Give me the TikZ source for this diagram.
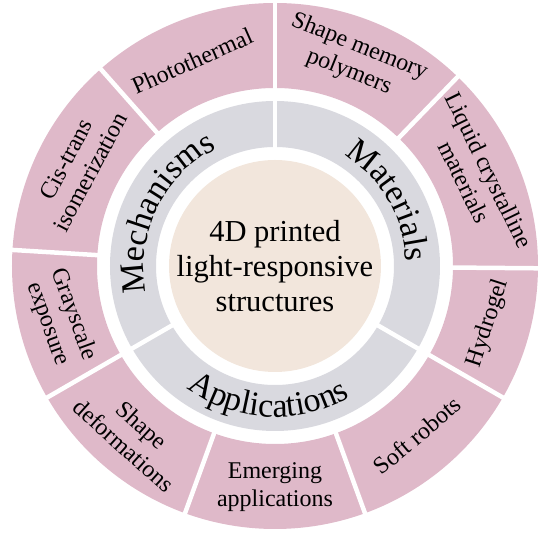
\documentclass[tikz,border=0pt]{standalone}
\usepackage{fontspec}
\setmainfont{Liberation Serif}
\usetikzlibrary{decorations.text}
\definecolor{ringpink}{RGB}{223,185,201}
\definecolor{ringgrey}{RGB}{217,217,223}
\definecolor{corebeige}{RGB}{242,230,220}

\newcommand{\groupfont}{\fontsize{34}{34}\selectfont}
\tikzset{
	sectorlabel/.style={align=center,font=\fontsize{24}{27.5}\selectfont},
	gapline/.style={white,line width=4.5},
	grouplabel/.style={decorate,decoration={text along path,text align=center,text={|\groupfont|#1}}}
}

\begin{document}
\begin{tikzpicture}[x=1pt,y=1pt]
	\useasboundingbox (-275,-268) rectangle (264,266);
	\coordinate (O) at (0,0);
	
	% three rings
	\fill[ringpink,even odd rule] (O) circle[radius=263] circle[radius=178];
	\fill[ringgrey,even odd rule] (O) circle[radius=165] circle[radius=119];
	\fill[corebeige] (O) circle[radius=106];
	
	\foreach \a in {90,131.5,176.5,210,250,290,330,359.5,46}{
		\draw[gapline] (\a:176) -- (\a:265);}
	\foreach \a in {90,210,330}{
		\draw[gapline] (\a:117) -- (\a:167);}
	
	\node[align=center,font=\fontsize{30.5}{35}\selectfont] (core) at (O) {4D printed\\light-responsive\\structures};
	
	% names on the grey ring
	\path[grouplabel=Mechanisms] (214:131) arc[start angle=214,end angle=94,radius=131];
	\path[grouplabel=Materials] (90:131) arc[start angle=90,end angle=-30,radius=131];
	\path[grouplabel=Applications] (207:151) arc[start angle=207,end angle=327,radius=151];
	
	% outer sectors
	\foreach \a/\r/\txt [count=\i] in {112/24/Photothermal,153/62/Cis-trans\\isomerization,
		194/-70/Grayscale\\exposure,230/-42/Shape\\deformations,270/0/Emerging\\applications,
		310/40/Soft robots,345/72/Hydrogel,24/-64/Liquid crystalline\\materials,69/-22/Shape memory\\polymers}{
		\node[sectorlabel,rotate=\r] (lab\i) at (\a:221) {\txt};}
\end{tikzpicture}
\end{document}
